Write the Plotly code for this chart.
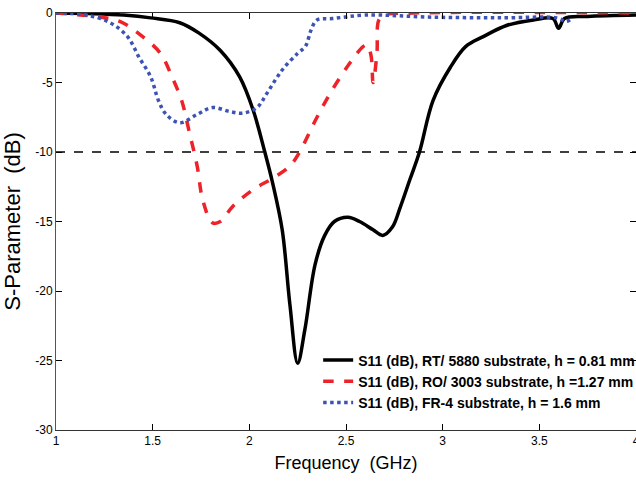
import plotly.graph_objects as go

# RT/5880 (black)
f_rt = [1.0, 1.2, 1.35, 1.49, 1.64, 1.74, 1.85, 1.95, 2.02, 2.08, 2.12, 2.17, 2.21, 2.25,
        2.287, 2.34, 2.39, 2.44, 2.51, 2.57, 2.64, 2.69, 2.74, 2.78, 2.83, 2.88, 2.95,
        3.04, 3.12, 3.21, 3.33, 3.47, 3.57, 3.6, 3.63, 3.75, 4.0]
s_rt = [0.0, -0.05, -0.15, -0.35, -0.7, -1.45, -2.7, -4.6, -7.0, -10.0, -12.2, -15.6, -21.0, -25.2,
        -22.8, -18.1, -16.0, -15.0, -14.7, -15.0, -15.6, -16.0, -15.4, -14.0, -12.0, -10.0, -6.3,
        -3.9, -2.4, -1.7, -0.9, -0.5, -0.4, -1.1, -0.4, -0.25, -0.15]

# RO/3003 (red)
f_ro = [1.0, 1.23, 1.33, 1.43, 1.54, 1.6, 1.65, 1.69, 1.73, 1.76, 1.81, 1.85, 1.915, 2.02,
        2.12, 2.21, 2.26, 2.35, 2.43, 2.52, 2.59, 2.61, 2.63, 2.64, 2.66, 2.67, 2.70, 2.85, 4.0]
s_ro = [0.0, -0.3, -0.6, -1.5, -2.9, -4.6, -6.3, -8.6, -11.0, -13.5, -15.1, -15.0, -13.9, -12.7,
        -11.9, -11.0, -10.0, -7.5, -5.5, -3.6, -2.4, -2.3, -3.1, -5.0, -2.9, -0.5, -0.15, 0.0, 0.0]

# FR-4 (blue)
f_fr = [1.0, 1.16, 1.28, 1.37, 1.43, 1.49, 1.53, 1.57, 1.64, 1.73, 1.81, 1.9, 1.97, 2.04,
        2.09, 2.17, 2.25, 2.29, 2.32, 2.35, 2.43, 2.6, 2.95, 3.29, 3.59, 3.64, 3.67]
s_fr = [0.0, -0.15, -0.7, -1.7, -3.2, -4.6, -6.3, -7.3, -7.9, -7.3, -6.8, -7.1, -7.2, -6.8,
        -5.8, -4.1, -2.9, -2.4, -1.2, -0.5, -0.4, -0.15, -0.3, -0.35, -0.35, -0.6, -0.35]

ref_x = [1.0, 4.0]
ref_y = [-10.0, -10.0]

x_ticks = [1, 1.5, 2, 2.5, 3, 3.5, 4]
y_ticks = [0, -5, -10, -15, -20, -25, -30]

sans = "Liberation Sans, Arial, sans-serif"

fig = go.Figure()
fig.add_trace(go.Scatter(x=ref_x, y=ref_y, mode="lines", showlegend=False,
                         line=dict(color="black", width=1.5, dash="dash")))
fig.add_trace(go.Scatter(x=f_rt, y=s_rt, mode="lines", line_shape="spline",
                         name="<b>S11 (dB), RT/ 5880 substrate, h = 0.81 mm</b>",
                         line=dict(color="black", width=3.5)))
fig.add_trace(go.Scatter(x=f_ro, y=s_ro, mode="lines", line_shape="spline",
                         name="<b>S11 (dB), RO/ 3003 substrate, h =1.27 mm</b>",
                         line=dict(color="#ee2229", width=3.5, dash="dash")))
fig.add_trace(go.Scatter(x=f_fr, y=s_fr, mode="lines", line_shape="spline",
                         name="<b>S11 (dB), FR-4 substrate, h = 1.6 mm</b>",
                         line=dict(color="#3c52b4", width=3.5, dash="dot")))

fig.update_layout(
    width=636, height=481,
    margin=dict(l=56, r=0, t=13, b=51, autoexpand=False),
    paper_bgcolor="white", plot_bgcolor="white",
    font=dict(family=sans, color="black", size=12),
    legend=dict(x=0.452, y=0.205, xanchor="left", yanchor="top",
                bgcolor="rgba(0,0,0,0)", font=dict(family=sans, size=14, color="black"),
                tracegroupgap=0),
    xaxis=dict(range=[1, 4], tickvals=x_ticks, ticktext=[str(v) for v in x_ticks],
               ticks="inside", ticklen=6, tickcolor="black", mirror="ticks",
               ticklabeloverflow="allow",
               showline=True, linecolor="#333", linewidth=1, showgrid=False, zeroline=False,
               tickfont=dict(family=sans, size=12),
               title=dict(text="Frequency\u00a0 (GHz)", font=dict(family=sans, size=18), standoff=8)),
    yaxis=dict(range=[-30, 0], tickvals=y_ticks, ticktext=[str(v) for v in y_ticks],
               ticks="inside", ticklen=6, tickcolor="black", mirror="ticks",
               showline=True, linecolor="#555", linewidth=1, showgrid=False, zeroline=False,
               tickfont=dict(family=sans, size=12),
               title=dict(text="S-Parameter\u00a0 (dB)", font=dict(family=sans, size=22), standoff=10)),
)

fig.write_html("out.html")
